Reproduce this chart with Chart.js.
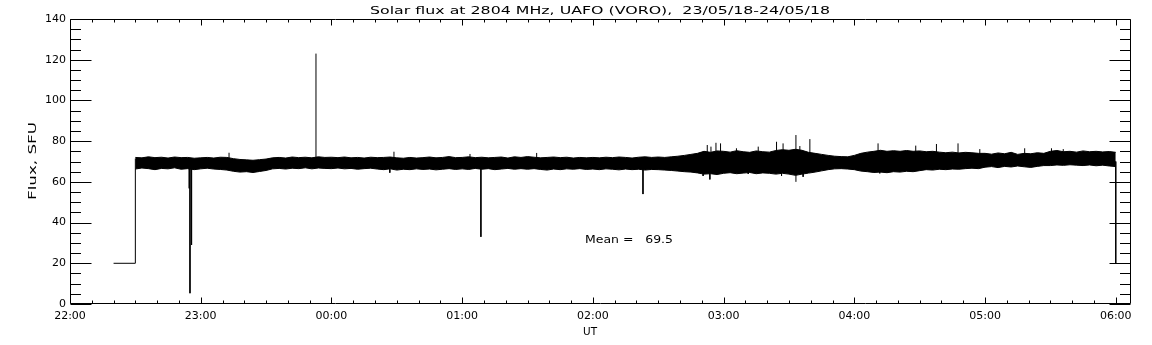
<!DOCTYPE html>
<html>
<head>
<meta charset="utf-8">
<script src="https://cdn.jsdelivr.net/npm/chart.js@4/dist/chart.umd.min.js"></script>
<style>
  html, body { margin: 0; padding: 0; background: #fff; }
  canvas { display: block; }
</style>
</head>
<body>
<canvas id="fluxChart" width="1152" height="345"></canvas>
<script>
// x values are minutes after 22:00 UT
const xTickLabels = ['22:00', '23:00', '00:00', '01:00', '02:00', '03:00', '04:00', '05:00', '06:00'];
const xTickMinutes = [0, 60, 120, 180, 240, 300, 360, 420, 480];
const yTickValues = [0, 20, 40, 60, 80, 100, 120, 140];

// band sampled every 3 minutes from 22:30 to 06:00
const bandStart = 30;
const bandStep = 3;

// upper edge of the noisy band, SFU
const fluxHigh = [
  72.0, 71.8, 72.3, 71.9, 72.1, 71.7, 72.2, 71.9, 72.0, 71.6,
  71.8, 72.0, 71.7, 72.1, 72.0, 71.4, 71.0, 70.8, 70.6, 70.9,
  71.2, 71.8, 72.0, 71.7, 72.2, 71.9, 72.1, 71.8, 72.3, 72.0,
  72.1, 71.9, 72.2, 71.8, 72.0, 71.7, 72.1, 71.9, 72.0, 72.2,
  71.8, 71.6, 72.0, 71.7, 71.9, 72.2, 71.8, 72.0, 72.4, 71.9,
  72.0, 72.3, 71.9, 72.1, 71.8, 72.0, 72.2, 71.7, 72.3, 72.0,
  72.4, 72.1, 71.8, 72.0, 72.2, 71.9, 72.1, 71.7, 72.0, 71.8,
  72.0, 71.8, 72.1, 71.9, 72.2, 72.0, 71.7, 72.1, 72.3, 72.0,
  72.2, 72.0, 72.3, 72.6, 73.0, 73.5, 74.0, 75.0, 74.5, 75.2,
  75.0, 74.6, 75.3, 74.8, 74.5, 75.2, 74.8, 74.6, 75.4, 75.8,
  75.5, 76.0, 75.5, 74.5, 74.0, 73.5, 73.0, 72.6, 72.4, 72.3,
  73.0, 74.0, 74.6, 75.0, 75.5, 75.0, 75.3, 75.0, 75.4, 75.0,
  75.2, 74.8, 75.0, 74.6, 74.3, 74.6, 74.2, 74.5, 74.3, 74.0,
  74.0, 73.6, 74.2, 73.8, 74.5, 73.5, 74.0, 73.8, 74.3, 74.0,
  75.0, 75.4, 74.8, 75.0, 74.6, 75.2, 74.8, 75.0, 74.7, 74.9,
  74.5
];

// lower edge of the noisy band, SFU
const fluxLow = [
  66.3, 66.8, 66.5, 66.0, 66.6, 66.4, 66.9, 66.2, 66.5, 66.0,
  66.4, 66.7, 66.3, 66.1, 65.8, 65.2, 64.8, 65.0, 64.6, 65.1,
  65.6, 66.4, 66.6, 66.3, 66.7, 66.5, 66.9, 66.4, 66.8, 66.6,
  66.5, 66.8, 66.4, 66.6, 66.2, 66.5, 66.7, 66.3, 66.0, 66.4,
  65.8, 66.2, 66.0, 66.4, 66.1, 66.3, 65.9, 66.2, 66.5, 66.1,
  66.4, 66.1, 66.6, 66.2, 66.5, 66.0, 66.3, 66.6, 66.2, 66.5,
  66.2, 66.5, 66.1, 65.8, 66.3, 66.0, 66.4, 66.2, 66.5, 66.1,
  66.3, 66.0, 66.4, 66.2, 65.9, 66.3, 66.0, 66.2, 65.8, 66.1,
  66.0, 65.8, 65.6, 65.3, 65.0, 64.8, 64.4, 63.8, 64.0, 63.6,
  64.2, 64.5, 64.0, 64.3, 64.6, 64.0, 64.4, 64.2, 63.8, 64.2,
  63.8, 63.2, 63.8, 64.3, 64.8, 65.4, 66.0, 66.4, 66.5, 66.3,
  66.0, 65.3, 65.0, 64.6, 64.8, 64.5, 65.0, 64.8, 65.2, 65.0,
  65.5, 66.0, 65.8, 66.2, 66.0, 66.3, 66.2, 66.5, 66.7, 66.5,
  67.2, 67.5, 67.0, 67.6, 67.3, 67.8, 67.4, 67.1, 67.6, 68.0,
  68.0, 68.3, 68.1, 68.4, 68.2, 68.0, 68.3, 67.9, 68.2, 67.8,
  67.5
];

// single-sample spikes and dips: time, band side, tip
const spikeTimes = [
  54.75, 55.07, 55.8, 73.0, 112.9, 146.8, 148.7, 183.6, 188.6, 214.2,
  263.0, 290.6, 292.5, 293.7, 294.2, 296.5, 298.6, 305.9, 311.3, 315.9,
  324.3, 326.6, 327.3, 333.2, 335.0, 336.5, 339.6, 370.9, 371.7, 388.2,
  397.7, 407.6, 417.6, 438.2, 450.5, 455.9
];
const spikeFrom = [
  70, 70, 70, 70, 70, 70, 70, 70, 70, 70,
  70, 70, 70, 70, 70, 70, 70, 70, 70, 70,
  70, 70, 70, 60, 70, 70, 70, 70, 70, 70,
  70, 70, 70, 70, 70, 70
];
const spikeTo = [
  56.8, 5.3, 29.0, 74.3, 123.0, 64.5, 74.8, 73.7, 33.0, 74.2,
  54.0, 62.9, 78.1, 61.2, 77.3, 79.2, 78.9, 76.5, 63.9, 77.3,
  79.7, 62.9, 78.9, 83.0, 77.6, 62.5, 81.0, 78.9, 64.2, 77.8,
  78.6, 78.9, 76.1, 76.5, 76.5, 76.1
];

// receiver offline level before start and after end
const startTimes = [20, 30, 30];
const startFlux  = [20, 20, 71.5];
const endTimes = [480, 480];
const endFlux  = [70, 20];

const meanFlux = 69.5;

const bandTimes = fluxHigh.map((v, i) => bandStart + i * bandStep);
const highPts = bandTimes.map((t, i) => ({ x: t, y: fluxHigh[i] }));
const lowPts = bandTimes.map((t, i) => ({ x: t, y: fluxLow[i] }));

const spikePts = [];
spikeTimes.forEach((t, i) => {
	spikePts.push({ x: t, y: spikeFrom[i] });
	spikePts.push({ x: t, y: spikeTo[i] });
	spikePts.push({ x: t, y: null });
});

const startPts = startTimes.map((t, i) => ({ x: t, y: startFlux[i] }));
const endPts = endTimes.map((t, i) => ({ x: t, y: endFlux[i] }));

Chart.defaults.font.family = "'DejaVu Sans', sans-serif";
Chart.defaults.font.size = 11;
Chart.defaults.color = '#000';

// stretch a string to a given width, the IDL font is wider than ours
function drawFitted(ctx, text, x, y, width, align, angle) {
	const w = ctx.measureText(text).width;
	ctx.save();
	ctx.translate(x, y);
	if (angle) ctx.rotate(angle);
	ctx.scale(width / w, 1);
	ctx.textAlign = align;
	ctx.fillText(text, 0, 0);
	ctx.restore();
}

const idlFrame = {
	id: 'idlFrame',
	afterDraw(chart) {
		const { ctx, chartArea: a, scales: { x, y } } = chart;
		const L = Math.round(a.left) + 0.5, R = Math.round(a.right) - 0.5;
		const T = Math.round(a.top) + 0.5, B = Math.round(a.bottom) - 0.5;
		ctx.save();
		ctx.strokeStyle = '#000';
		ctx.lineWidth = 1;
		ctx.beginPath();
		ctx.rect(L, T, R - L, B - T);

		// x ticks every 10 min, inward, top and bottom
		for (let m = 0; m <= x.max; m += 10) {
			const px = Math.round(x.getPixelForValue(m)) + 0.5;
			const len = m % 60 === 0 ? 6 : 3;
			ctx.moveTo(px, B); ctx.lineTo(px, B - len);
			ctx.moveTo(px, T); ctx.lineTo(px, T + len);
		}
		// y ticks every 5 SFU, inward, left and right
		for (let v = 0; v <= y.max; v += 5) {
			const py = Math.round(y.getPixelForValue(v)) + 0.5;
			const len = v % 20 === 0 ? 21 : 10.5;
			ctx.moveTo(L, py); ctx.lineTo(L + len, py);
			ctx.moveTo(R, py); ctx.lineTo(R - len, py);
		}
		ctx.stroke();

		ctx.fillStyle = '#000';
		ctx.font = "11px 'DejaVu Sans'";
		ctx.textBaseline = 'alphabetic';
		drawFitted(ctx, 'Solar flux at 2804 MHz, UAFO (VORO),  23/05/18-24/05/18', 600, 14, 460, 'center');
		drawFitted(ctx, 'UT', 590, 335, 14, 'center');
		drawFitted(ctx, 'Flux, SFU', 36, 161, 78, 'center', -Math.PI / 2);
		drawFitted(ctx, 'Mean =   ' + meanFlux.toFixed(1), 585, 243, 88, 'left');
		ctx.restore();
	}
};

new Chart(document.querySelector('#fluxChart'), {
	type: 'line',
	data: {
		datasets: [
			{ data: highPts, borderColor: '#000', borderWidth: 1, pointRadius: 0, tension: 0, fill: false },
			{ data: lowPts, borderColor: '#000', borderWidth: 1, pointRadius: 0, tension: 0, fill: '-1', backgroundColor: '#000' },
			{ data: spikePts, borderColor: '#000', borderWidth: 1, pointRadius: 0, spanGaps: false },
			{ data: startPts, borderColor: '#000', borderWidth: 1, pointRadius: 0 },
			{ data: endPts, borderColor: '#000', borderWidth: 1, pointRadius: 0 }
		]
	},
	options: {
		responsive: false,
		animation: false,
		devicePixelRatio: 1,
		layout: { padding: { top: 19, right: 21, left: 0, bottom: 0 } },
		plugins: { legend: { display: false }, tooltip: { enabled: false } },
		scales: {
			x: {
				type: 'linear',
				min: 0,
				max: 487,
				grid: { display: false, drawTicks: false },
				border: { display: false },
				afterBuildTicks: scale => { scale.ticks = xTickMinutes.map(v => ({ value: v })); },
				afterFit: scale => { scale.height = 41; },
				ticks: { maxRotation: 0, autoSkip: false, padding: 6, callback: (v, i) => xTickLabels[i] }
			},
			y: {
				min: 0,
				max: 140,
				grid: { display: false, drawTicks: false },
				border: { display: false },
				afterBuildTicks: scale => { scale.ticks = yTickValues.map(v => ({ value: v })); },
				afterFit: scale => { scale.width = 70; },
				ticks: { autoSkip: false, padding: 4 }
			}
		}
	},
	plugins: [idlFrame]
});
</script>
</body>
</html>
